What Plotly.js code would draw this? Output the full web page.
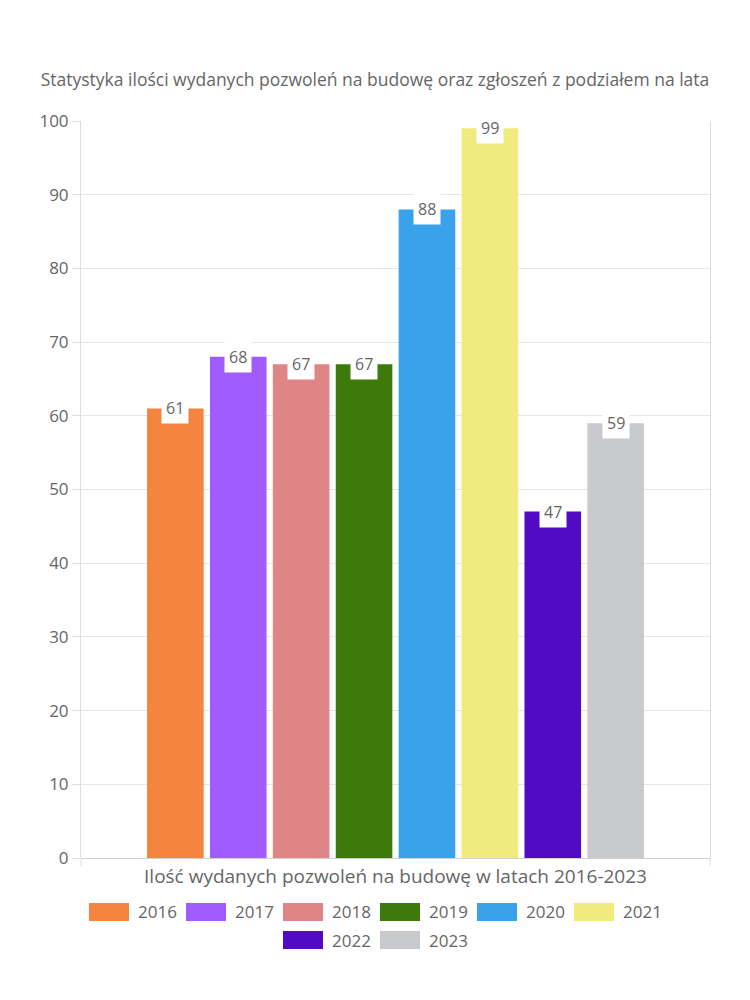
<!DOCTYPE html>
<html>
<head>
<meta charset="utf-8">
<script src="https://cdn.plot.ly/plotly-3.0.1.min.js"></script>
<style>html,body{margin:0;padding:0;background:#fff;}#chart{width:750px;height:1000px;}</style>
</head>
<body>
<div id="chart"></div>
<script>
const category = "Ilość wydanych pozwoleń na budowę w latach 2016-2023";
const years = ["2016", "2017", "2018", "2019", "2020", "2021", "2022", "2023"];
const values = [61, 68, 67, 67, 88, 99, 47, 59];
const colors = ["#F5843F", "#A05CFF", "#E08585", "#3D7A0B", "#38A3EB", "#F0EB7E", "#520BC4", "#C9CACD"];
const yTicks = [0, 10, 20, 30, 40, 50, 60, 70, 80, 90, 100];
const legendRows = [["2016", "2017", "2018", "2019", "2020", "2021"], ["2022", "2023"]];
const chartTitle = "Statystyka ilości wydanych pozwoleń na budowę oraz zgłoszeń z podziałem na lata";

const FONT = "'Open Sans', 'Noto Sans', sans-serif";
const GRAY = "#666666";
const bargap = 0.2;

const W = 750, H = 1000;
const M = {l: 81, r: 40, t: 121, b: 142};
const PW = W - M.l - M.r, PH = H - M.t - M.b;
const px2x = px => (px - M.l) / PW;
const py2y = py => (H - M.b - py) / PH;

const traces = years.map((y, i) => ({
  type: "bar",
  name: y,
  x: [category],
  y: [values[i]],
  marker: {color: colors[i], line: {width: 0}},
  hoverinfo: "skip",
  showlegend: false
}));

const n = years.length;
const slot = (1 - bargap) / n;
const annotations = years.map((y, i) => ({
  xref: "x", yref: "y",
  x: (i - (n - 1) / 2) * slot,
  y: values[i],
  text: String(values[i]),
  showarrow: false,
  bgcolor: "#ffffff",
  borderpad: 4,
  font: {family: FONT, size: 16, color: GRAY},
  xanchor: "center", yanchor: "middle"
}));

// custom legend (rectangular swatches, centered rows)
const shapes = [];
const swW = 40, swH = 18, itemPitch = 97, itemGap = 10;
const rowY = [912, 940];
legendRows.forEach((row, r) => {
  const rowWidth = row.length * itemPitch - itemGap;
  let x0 = W / 2 - rowWidth / 2;
  row.forEach((yr) => {
    const idx = years.indexOf(yr);
    shapes.push({type: "rect", xref: "paper", yref: "paper",
      x0: px2x(x0), x1: px2x(x0 + swW), y0: py2y(rowY[r] + swH / 2), y1: py2y(rowY[r] - swH / 2),
      fillcolor: colors[idx], line: {width: 0}});
    annotations.push({xref: "paper", yref: "paper", x: px2x(x0 + swW + 7), y: py2y(rowY[r]),
      text: yr, showarrow: false, xanchor: "left", yanchor: "middle",
      font: {family: FONT, size: 17, color: GRAY}});
    x0 += itemPitch;
  });
});
// small ticks at the bottom corners of the plot frame
[0, 1].forEach(xp => shapes.push({type: "line", xref: "paper", yref: "paper",
  x0: xp, x1: xp, y0: 0, y1: py2y(H - M.b + 8), line: {color: "#dddddd", width: 1}}));

const layout = {
  width: W, height: H,
  margin: M,
  paper_bgcolor: "#ffffff", plot_bgcolor: "#ffffff",
  font: {family: FONT, color: GRAY},
  title: {text: chartTitle, x: 0.5, xanchor: "center", y: 0.92, yref: "container", yanchor: "middle",
          font: {family: FONT, size: 17.5, color: GRAY}},
  barmode: "group",
  bargap: bargap,
  bargroupgap: 0.1,
  showlegend: false,
  xaxis: {type: "category", showgrid: false, zeroline: false, showline: false,
          ticks: "", tickfont: {family: FONT, size: 19, color: GRAY}, ticklabelstandoff: 5},
  yaxis: {range: [0, 100], tickvals: yTicks, ticktext: yTicks.map(String),
          showgrid: true, gridcolor: "#e6e6e6", gridwidth: 1,
          zeroline: true, zerolinecolor: "#d0d0d0", zerolinewidth: 1,
          showline: true, linecolor: "#dddddd", linewidth: 1, mirror: true,
          ticks: "outside", ticklen: 8, tickcolor: "#e0e0e0",
          tickfont: {family: FONT, size: 17, color: GRAY}},
  shapes: shapes,
  annotations: annotations
};

Plotly.newPlot("chart", traces, layout, {displayModeBar: false, staticPlot: true});
</script>
</body>
</html>
